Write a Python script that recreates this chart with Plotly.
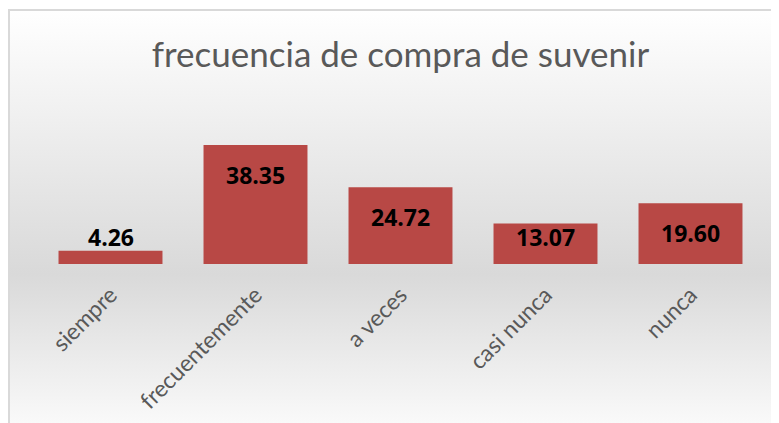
"""
Bar chart: frecuencia de compra de suvenir
"""
import base64
import plotly.graph_objects as go

categories = ['siempre', 'frecuentemente', 'a veces', 'casi nunca', 'nunca']
values = [4.26, 38.35, 24.72, 13.07, 19.60]
value_labels = ['4.26', '38.35', '24.72', '13.07', '19.60']

W, H = 779, 423
OFF = 8  # page body margin: the figure is drawn 8px right/down of the window corner
M = dict(l=38 - OFF, r=16 + OFF, t=140 - OFF, b=159 + OFF)
Y_MAX = 40
plot_h = H - M['t'] - M['b']
ppu = plot_h / Y_MAX  # pixels per data unit

# background: Excel-like vertical gradient with a light frame
svg = (
    '<svg xmlns="http://www.w3.org/2000/svg" width="800" height="430" '
    'preserveAspectRatio="none" viewBox="0 0 800 430">'
    '<defs><linearGradient id="g" x1="0" y1="0" x2="0" y2="1">'
    '<stop offset="0" stop-color="#ffffff"/>'
    '<stop offset="0.6" stop-color="#d9d9d9"/>'
    '<stop offset="1" stop-color="#ffffff"/>'
    '</linearGradient></defs>'
    '<rect x="1" y="1" width="810" height="440" fill="url(#g)" '
    'stroke="#d9d9d9" stroke-width="2"/></svg>'
)
bg_src = 'data:image/svg+xml;base64,' + base64.b64encode(svg.encode()).decode()


def px_to_paper_x(px):
    return (px - OFF - M['l']) / (W - M['l'] - M['r'])


def px_to_paper_y(py):
    return (H - M['b'] - (py - OFF)) / plot_h


fig = go.Figure(go.Bar(
    x=categories,
    y=values,
    marker=dict(color='#b84845', line=dict(width=0)),
    hoverinfo='x+y',
))

# data labels: 30px below the bar top, but never lower than 27px above the base
for cat, v, lab in zip(categories, values, value_labels):
    y_lab = max(v - 30 / ppu, 27 / ppu)
    fig.add_annotation(
        x=cat, y=y_lab, text=lab, showarrow=False,
        yanchor='middle', xanchor='center',
        font=dict(family='Open Sans', size=23, color='#000000', weight='bold'),
    )

fig.add_layout_image(dict(
    source=bg_src, xref='paper', yref='paper',
    x=px_to_paper_x(8), y=px_to_paper_y(9),
    sizex=px_to_paper_x(808) - px_to_paper_x(8),
    sizey=px_to_paper_y(9) - px_to_paper_y(439),
    xanchor='left', yanchor='top', sizing='stretch', layer='below',
))

fig.update_layout(
    width=W, height=H,
    margin=M,
    paper_bgcolor='white',
    plot_bgcolor='rgba(0,0,0,0)',
    bargap=0.283,
    showlegend=False,
    title=dict(
        text='frecuencia de compra de suvenir',
        x=0.5, xref='paper', xanchor='center',
        y=1 - (55 - OFF) / H, yref='container', yanchor='middle',
        font=dict(family='Lato', size=35, color='#595959'),
    ),
    xaxis=dict(
        showgrid=False, zeroline=False, showline=False, ticks='',
        tickangle=-45, ticklabelstandoff=12,
        tickfont=dict(family='Lato', size=23, color='#595959'),
    ),
    yaxis=dict(
        range=[0, Y_MAX], visible=False, showgrid=False, zeroline=False,
    ),
)

fig.write_html("out.html")
